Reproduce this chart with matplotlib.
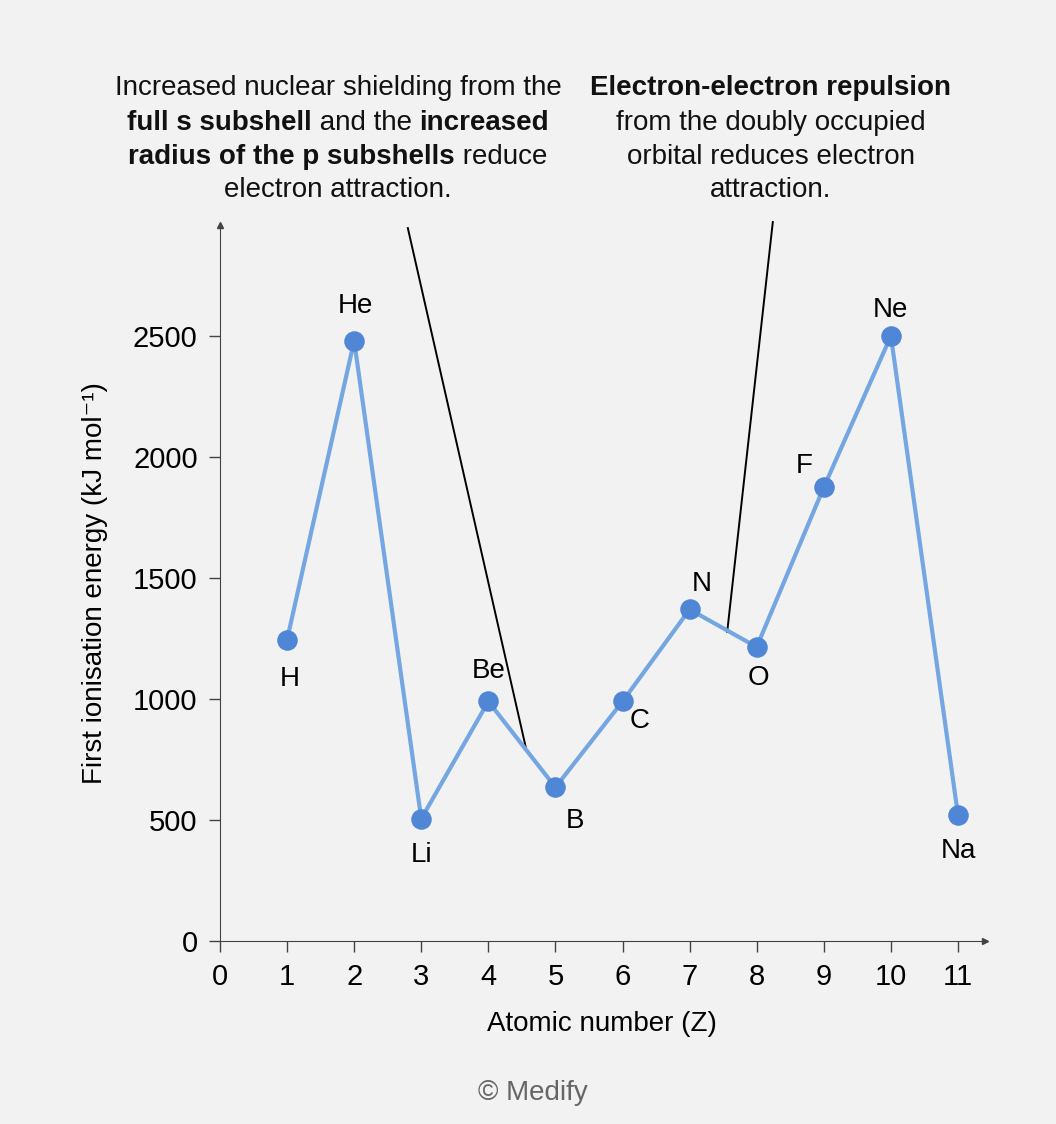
import matplotlib.pyplot as plt

plt.rcParams['font.family'] = ['Liberation Sans', 'DejaVu Sans']

elements = ['H', 'He', 'Li', 'Be', 'B', 'C', 'N', 'O', 'F', 'Ne', 'Na']
atomic_numbers = [1, 2, 3, 4, 5, 6, 7, 8, 9, 10, 11]
energies = [1245, 2480, 505, 990, 635, 990, 1370, 1215, 1875, 2500, 520]
label_offsets = [(2, -28), (1, 25), (0, -26), (0, 22), (14, -24), (12, -14),
                 (9, 18), (1, -22), (-14, 15), (0, 19), (0, -26)]


def draw_rich_line(fig, renderer, y, parts, cx, size=20):
    """Draw one centred line made of (text, bold) pieces."""
    items = []
    total = 0
    for txt, bold in parts:
        t = fig.text(0, 0, txt, fontsize=size, fontweight='bold' if bold else 'normal',
                     va='center', ha='left', color='#111111')
        w = t.get_window_extent(renderer).width
        items.append((t, w))
        total += w
    x = cx - total / 2
    for t, w in items:
        t.set_position((x / fig.bbox.width, 1 - y / fig.bbox.height))
        x += w


fig = plt.figure(figsize=(10.56, 11.24), dpi=100, facecolor='#f2f2f2')
ax = fig.add_axes([0.2083, 0.1628, 0.7243, 0.6373])
ax.set_facecolor('#f2f2f2')

ax.plot(atomic_numbers, energies, color='#74a6e2', lw=3, zorder=2)
ax.scatter(atomic_numbers, energies, s=190, color='#4f86d6', zorder=3)
for x, y, name, off in zip(atomic_numbers, energies, elements, label_offsets):
    ax.annotate(name, (x, y), xytext=off, textcoords='offset points',
                ha='center', va='center', fontsize=20)

# pointer lines
ax.plot([2.80, 4.56], [2946, 798], color='black', lw=1.4, clip_on=False, zorder=1)
ax.plot([8.24, 7.56], [2971, 1277], color='black', lw=1.4, clip_on=False, zorder=1)

ax.set_xlim(0, 11.4)
ax.set_ylim(0, 2960)
ax.set_xticks(range(0, 12))
ax.set_yticks([0, 500, 1000, 1500, 2000, 2500])
ax.tick_params(labelsize=21, length=8, pad=8, color='#444444', width=1)
for s in ['top', 'right']:
    ax.spines[s].set_visible(False)
for s in ['left', 'bottom']:
    ax.spines[s].set_color('#444444')
ax.plot(1, 0, '>', color='#444444', ms=5, transform=ax.transAxes, clip_on=False)
ax.plot(0, 1, '^', color='#444444', ms=5, transform=ax.transAxes, clip_on=False)

ax.set_xlabel('Atomic number (Z)', fontsize=20, labelpad=14)
ax.set_ylabel('First ionisation energy (kJ mol⁻¹)', fontsize=20, labelpad=18)

renderer = fig.canvas.get_renderer()
draw_rich_line(fig, renderer, 88, [('Increased nuclear shielding from the', False)], 338)
draw_rich_line(fig, renderer, 123, [('full s subshell', True), (' and the ', False),
                                    ('increased', True)], 338)
draw_rich_line(fig, renderer, 157, [('radius of the p subshells', True), (' reduce', False)], 338)
draw_rich_line(fig, renderer, 190, [('electron attraction.', False)], 338)
draw_rich_line(fig, renderer, 88, [('Electron-electron repulsion', True)], 771)
draw_rich_line(fig, renderer, 123, [('from the doubly occupied', False)], 771)
draw_rich_line(fig, renderer, 157, [('orbital reduces electron', False)], 771)
draw_rich_line(fig, renderer, 190, [('attraction.', False)], 771)

fig.text(0.505, 1 - 1093 / 1124, '© Medify', ha='center', va='center',
         fontsize=20, color='#666666')

plt.savefig('out.png', facecolor=fig.get_facecolor())
